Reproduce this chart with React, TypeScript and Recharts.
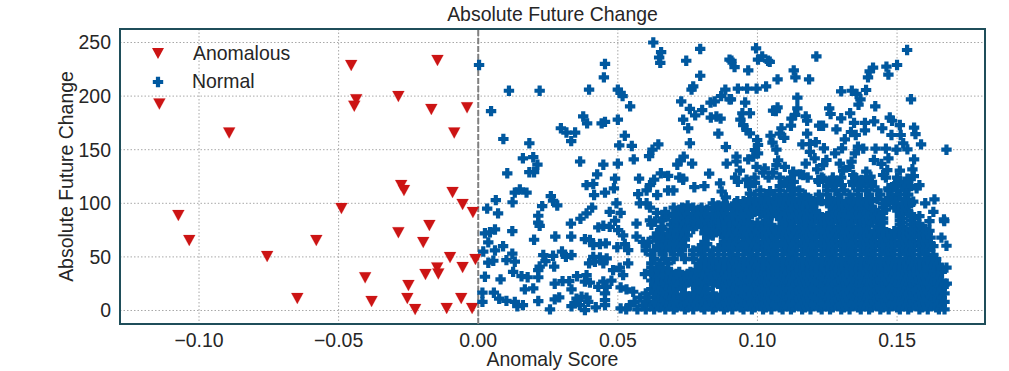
import React from "react";
import { ScatterChart, Scatter, XAxis, YAxis, CartesianGrid, ReferenceLine, ReferenceArea, Legend, Label } from "recharts";

const TITLE = "Absolute Future Change";
const X_LABEL = "Anomaly Score";
const Y_LABEL = "Absolute Future Change";
const X_TICKS = [-0.1, -0.05, 0, 0.05, 0.1, 0.15];
const Y_TICKS = [0, 50, 100, 150, 200, 250];
const X_DOMAIN = [-0.1283, 0.1815];
const Y_DOMAIN = [-12.6, 262.6];

// Scores are in thousandths: [score x 1000, change]
const anomalous = [
  [-114.2,193],[-89.2,166],[-45.5,229],[-14.6,233.7],[-43.7,197],[-44.4,191],[-28.6,200],[-16.8,188],[-4,189.5],[-8.6,166],
  [-107.4,89],[-103.5,65.7],[-75.6,50.8],[-64.8,11.6],[-58,65.7],[-49,95.5],[-40.5,30.9],[-38.2,8.8],[-27.6,117],[-26.6,112.3],
  [-28.6,73],[-17.5,79.7],[-19.7,63.8],[-25,23.7],[-25.4,11.6],[-22.6,1.3],[-18.9,34],[-14.7,40.2],[-14.3,34.6],[-11.3,2.3],
  [-10.1,49.8],[-9.2,110.5],[-5.6,99.3],[-1.9,91.8],[-5.6,40.5],[-6.1,11.6],[-2.2,2.3],[-1,48],
];

const normalOutlying = [
  [0.3,229],[11,205],[22,205],[4.6,186],[39.7,206],[45.4,230],[45,217.5],[50,206],[51,203],[51.7,200],[54.4,190.5],[62.7,250],[65.5,241],[64.8,236],[65.2,231],
  [74.5,233],[79.5,244],[79.5,219],[77,209],[76.4,206],[72.7,195],[75.8,188],[77.7,182],[80.2,187],[83.2,194],[84.7,195],[87,200],[88.5,206],[90,234],[90,197],
  [83.3,180],[85.3,181],[86.8,179],[86,165],[88.7,152.5],[75.8,156],[73.4,178],[75.2,170],[37.6,181],[39,174.6],[44.2,174.6],[45.4,176],[50,178],[52.5,163],[50.5,154],
  [55,153.5],[64.5,155],[62.4,150],[61.2,144],[55.7,141],[50,137],[44.8,136],[36.5,139],[33.3,158],[34.7,166],[31.6,166],[29.6,170],[18.3,156],[9,160],[16,142],
  [19.7,143],[21.2,136],[18.3,129],[20,129],[10.4,128],[42.6,127],[49,123],[57.6,123],[63,122],[65.4,128],[68,125.5],[72,124],[73.4,123],[71.3,136],[72.5,140],
  [73.6,143.5],[76.6,137],[82.7,127.7],[89,137],[99.5,244.6],[100.2,234],[101.7,237],[103.8,233],[104.4,232],[90.7,233],[91.8,227],[96.7,224],[113,224],[113.6,217.5],
  [118.5,215.6],[107.2,215.6],[121.1,237],[153.6,243],[150,229],[146.2,227.5],[146.9,220],[141.4,226.5],[140.2,223],[139.6,217.5],[138.9,205.7],[133.8,205],[130,204.5],
  [135.5,202],[136.9,197],[136.2,192],[142.2,190.5],[155,197],[93,207],[96.3,207],[99.7,207],[103.1,209],[90.5,197],[95.6,194],[114.3,198.5],[114.3,188.6],[107.2,189.5],
  [105.6,186.4],[106.6,186],[97.3,184],[94.6,184],[93.9,178],[94.9,173],[96.1,168.4],[97.3,165.3],[113.5,182.4],[112.2,179],[117.3,181],[117.8,177],[112,172.4],[108.6,170],
  [108,165],[109.6,161],[104.7,163],[105.4,156.6],[106.8,150],[117.8,165],[122.1,172.4],[123.5,172.4],[125.7,188.6],[126.2,183.3],[130,179.3],[133.2,184],[134.6,175],[138.5,175],
  [138.5,168],[141.8,176.5],[144.7,170],[147.4,180],[148.2,177],[151,173],[151.3,163.7],[148,163.7],[156.1,170.6],[156.6,164.6],[158.6,155],[167.7,150],[153.7,150.3],[156.1,141],
  [155.5,131.7],[151,130.5],[146.5,131],[146.9,142],[149.8,150],[152.2,156],[146,151],[142.3,151],[128.3,169],[133.5,166.5],[135.2,163.7],[131.3,159.7],[130.3,151.3],[123.8,151.3],
  [120.9,157],[118.8,155.3],[116.1,155],[118.8,148],[127.8,146.6],[136,152.8],[137.9,151],[134.9,146.6],[141.7,140.4],[100.2,154.4],[99.9,159],[99.1,149.7],[100.2,146.6],[98.5,143.5],
  [96.7,141],[92.5,143.5],[92.5,139],[93.7,130.5],[99.7,134],[102.6,132.6],[107.4,140],[106.8,135.7],[109.8,134],[117.3,137],[120.5,142],[124.7,140.4],[123.5,135.7],[129.5,137],
  [133.7,138.8],[133,134],[139,129.5],[144.4,136.7],[121.4,131.7],[112.8,129.5],[115.2,127],[130.7,130.5],[134.3,126.4],[145,126.4],[105.6,128.6],[102,128.6],
  [38.8,117],[41.2,118],[14.9,113],[13.1,110],[17.3,110],[26,106.7],[26.8,102.4],[28.3,98],[41.5,107.7],[45.4,110],[48.6,114],[57.3,108.6],[61.5,117],[60.3,112],[64.1,107.7],
  [6.3,103],[12.3,101],[22.9,97.4],[3.2,95],[7.1,90.6],[21.5,88.4],[21.5,82],[22,79],[33.2,81],[40.8,96],[38.8,90.6],[36.6,85.6],[49.5,100],[47.1,92],[51,91],[57.9,100],[60.3,100],
  [61.5,96],[64,91],[56.7,81],[49,83.7],[43,77.5],[44.8,79],[47.1,78],[50.1,75],[51.9,70],[61.5,84],[63.3,83],[66,86],[65.6,78],[6,75.6],[4.2,73],[2.4,72],[12.2,74],[3.6,63.5],
  [8.9,60],[20,66],[27.6,69],[33.3,69],[38.2,66.6],[40,65.7],[41.2,61],[43.6,62],[45.7,62.6],[49.8,59],[52.5,62],[53.7,56.4],[56.7,69],[59,64],[1.8,55],[6,56],[12.2,53],[10.1,47],
  [13.1,45.5],[5.4,46.4],[3.6,44.6],[23.3,51.7],[26.8,51],[24.1,46],[30,55],[31.4,50],[33.4,51.7],[22,41],[27.2,41],[21.5,37.7],[12.5,36],[15.5,32],[17.7,31],[21.5,31],[2.4,31.5],
  [8,29],[35.4,32],[41.2,50],[43.6,49.5],[46,48.6],[39.7,44],[44.8,44],[41.8,45.5],[48.3,37.7],[50.7,40],[51.9,33],[53.7,44],[59.7,34],[38.8,33],[38.2,27],[40,26],[27.4,25],
  [30.2,27.4],[32.6,27.4],[33.4,19.7],[44.8,27],[47.7,27.8],[43,22],[46,22],[51,21.5],[53.1,19.7],[45.4,16],[55.5,17.5],[16.7,19.7],[19.7,20.6],[1.5,16.6],[1.5,8],[5.6,16.6],
  [7.5,11],[10.1,9],[13.1,8],[14,4],[16,5],[21.5,8.8],[25.7,1],[27.4,10.4],[29,12.2],[33.4,4],[35.2,11],[37,12.8],[38.8,12],[34.6,6.6],[36.4,5],[38.2,0.4],[39.4,8],[42.1,3],
  [45.4,5],[45.4,9.7],[51,2],[54.3,5],[68,112],[73.4,122],[69.9,112],[77.4,115],[81,116],[86.6,118.6],[87.2,111],[88.7,105.5],[92.8,102],[96.1,122],[99.1,119],[97.3,109],[104.5,111.4],
  [107.5,104.6],[111,120],[112.8,114],[116.4,126.4],[121.8,121.7],[117.6,104.6],[123.6,123],[126.9,121.7],[130.2,117],[134.3,117],[137.3,121.7],[139.7,118.6],[158,117],[157,114],
  [149.3,118],[146.9,114],[152.8,114],[140.5,124.8],[153.7,123],[156,125.4],[163.4,103.7],[160.1,100],[163,92],[166.8,85],[166.9,83.4],[161.6,83.4],[161.6,74.4],[165.9,68],[167.7,60.4],
  [167.7,40],[167.8,25],[155.8,101.5],
];

// Solid core of the "Normal" cloud, read as rows: [change, score x 1000 ...]
const normalCore = [
  [1,53,57,60,63,67,70,74,77,81,84,88,91,95,98,102,105,109,112,116,119,123,126,130,133,137,140,144,147,151,154,158,161,165,167],
  [3,65,71,75,80,85,89,94,99,103,108,113,117,122,127,131,136,141,145,150,155,159,164],
  [4.5,59,62,65,69,72,76,79,83,86,90,93,97,100,104,107,111,114,118,121,125,128,132,135,139,142,146,149,153,156,160,163,166],
  [6,64,68,73,78,82,87,92,96,101,106,110,115,120,124,129,134,138,143,148,152,157,162],
  [8,56,60,63,67,70,74,77,81,84,88,91,95,98,102,105,109,112,116,119,123,126,130,133,137,140,144,147,151,154,158,161,165,167],
  [10,66,71,75,80,85,89,94,99,103,108,113,117,122,127,131,136,141,145,150,155,159,164],
  [12,58,61,65,69,72,76,79,83,86,90,93,97,100,104,107,111,114,118,121,125,128,132,135,139,142,146,149,153,156,160,163,166],
  [14,64,68,73,78,82,87,92,96,101,106,110,115,120,124,129,134,138,143,148,152,157,162],
  [16,60,63,67,70,74,77,81,84,88,91,95,98,102,105,109,112,116,119,123,126,130,133,137,140,144,147,151,154,158,161,165,167],
  [18,66,70,80,89,94,99,103,108,113,117,122,127,131,136,141,145,150,155,159,164],
  [20,62,65,69,71,79,82,90,93,97,100,104,107,111,114,118,121,125,128,132,135,139,142,146,149,153,156,160,163,166],
  [22,64,68,73,78,87,92,96,101,106,110,115,120,124,129,134,138,143,148,152,157,162],
  [24,63,67,70,74,77,81,84,88,91,95,98,102,105,109,112,116,119,123,126,130,133,137,140,144,147,151,154,158,161,165,167],
  [26,66,71,75,80,85,89,94,99,103,108,113,117,122,127,131,136,141,145,150,155,159,164],
  [28,62,65,69,72,76,79,83,86,90,93,97,100,104,107,111,114,118,121,125,128,132,135,139,142,146,149,153,156,160,163,166],
  [30,64,68,73,78,82,87,92,96,101,106,110,115,120,124,129,134,138,143,148,152,157,162],
  [32,64,67,70,74,77,81,84,88,91,95,98,102,105,109,112,116,119,123,126,130,133,137,140,144,147,151,154,158,161,165],
  [34,66,71,75,80,85,89,94,99,103,108,113,117,122,127,131,136,141,145,150,155,159,164],
  [36,62,65,69,72,76,79,83,86,90,93,97,100,104,107,111,114,118,121,125,128,132,135,139,142,146,149,153,156,160,163,166],
  [38,64,68,78,82,87,92,96,101,106,110,115,120,124,129,134,138,143,148,152,157,162],
  [40,62,66,79,82,86,90,93,97,100,104,107,111,114,118,121,125,128,132,135,139,142,146,149,153,156,160,163,166],
  [42,81,84,88,91,95,98,102,105,109,112,116,119,123,126,130,133,137,140,144,147,151,154,158,161,165],
  [44,62,65,68,79,83,86,90,93,97,100,104,107,111,114,118,121,125,128,132,135,139,142,146,149,153,156,160,163],
  [46,81,84,88,92,95,99,102,106,109,113,116,120,123,127,130,134,137,141,144,148,151,155,158,162],
  [48,63,67,70,74,77,81,84,88,91,95,98,102,105,109,112,116,119,123,126,130,133,137,140,144,147,151,154,158,161,164],
  [52,62,66,70,73,77,80,83,86,90,93,97,100,104,107,111,114,118,121,125,128,132,135,139,142,146,149,153,156,160,163],
  [56,60,63,67,70,73,77,81,84,88,91,95,98,102,105,109,112,116,119,123,126,130,133,137,140,144,147,151,154,158,161],
  [58,65,69,72,79,86,90,93,96,100,103,106,110,113,117,120,124,127,131,134,138,141,145,148,152,155,159],
  [60,60,64,67,71,74,81,88,91,94,97,100,104,107,111,114,118,121,125,128,132,135,139,142,146,149,153,156,160,163],
  [62,66,70,73,82,89,93,96,99,103,106,110,113,117,120,124,127,131,134,138,141,145,148,152,155,159,162],
  [64,61,65,68,72,81,88,91,95,98,102,105,109,112,116,119,123,126,130,133,137,140,144,147,151,154,158,161],
  [66,64,67,71,74,89,92,96,99,103,106,110,113,117,120,124,127,131,134,138,141,145,148,152,155,159],
  [68,63,66,70,73,82,88,90,93,97,100,104,107,111,114,118,121,125,128,132,135,139,142,146,149,153,156,160,162],
  [70,65,69,72,75,84,89,92,95,99,102,106,109,113,116,120,123,127,130,134,137,141,144,148,151,155,158],
  [72,64,68,71,74,81,84,87,91,95,98,102,105,109,112,116,119,123,126,130,133,137,140,144,147,151,154,158,161],
  [74,70,73,83,86,89,93,96,100,103,107,110,114,117,121,124,128,131,135,138,142,145,149,152,156,159],
  [76,66,70,73,77,82,85,88,92,95,99,102,106,109,113,116,120,123,127,130,134,137,145,151,155,158,160],
  [78,71,75,80,83,87,90,94,97,101,104,108,111,115,118,122,125,129,132,136,139,143,152,156,159],
  [80,62,69,72,75,78,81,84,88,91,95,98,102,105,109,112,116,119,123,126,130,133,137,140,144,151,155,158],
  [82,71,74,77,80,83,86,90,93,96,100,103,110,113,117,120,124,127,131,134,138,141,145,152,156],
  [84,66,70,73,77,81,84,88,92,95,103,109,112,116,119,123,126,130,133,137,140,144,151,155],
  [86,71,75,79,83,86,90,94,104,110,114,117,121,124,128,131,135,138,142,145,152,156],
  [88,68,72,75,79,82,86,89,93,97,103,107,111,114,118,121,125,128,132,135,139,144,151,155,158],
  [90,70,73,77,80,84,87,91,95,98,101,105,108,112,115,119,122,126,129,133,136,140,143,152,155],
  [92,67,71,74,78,81,85,88,92,96,99,103,106,110,113,117,121,127,130,134,137,141,145,151,154],
  [94,72,75,79,82,86,89,93,97,100,104,107,111,114,118,128,131,135,138,142,146,152],
  [96,70,73,77,80,84,87,91,94,98,101,105,108,112,115,119,127,130,134,137,141,145,149,153],
  [98,75,86,89,93,96,99,102,106,109,113,116,120,126,129,133,136,140,146,150,154],
  [100,84,88,92,96,100,103,107,110,114,118,121,125,128,132,135,139,145,149,152,155],
  [102,95,99,102,106,109,112,116,120,123,127,130,134,137,141,146,149,153],
  [104,97,101,104,108,111,115,119,122,126,129,133,136,139,143,147,150,153],
  [108,99,103,106,110,113,117,122,125,129,133,136,140,144,148,151,154],
  [112,101,108,112,115,125,128,131,136,139,143,147,150,153],
  [116,97,108,111,125,127,137,141,149,152,155],
  [120,93,97,110,113,122,126,129,134,137,141,151,154],
  [124,92,99,104,108,112,118,123,127,130,135,139,146,150],
];

const normal = [
  ...normalOutlying,
  ...normalCore.flatMap(([change, ...scores]) => scores.map((s) => [s, change])),
];

const toRows = (pts: number[][]) => pts.map(([s, c]) => ({ score: s / 1000, change: c }));
const anomalousData = toRows(anomalous);
const normalData = toRows(normal);

const RED = "#cc1414";
const BLUE = "#00589f";
const TEXT = "#262626";
const FRAME = "#1f4e5a";
const FONT = "'Liberation Sans', Arial, sans-serif";
const FS = 19.44;

const plusPath = (cx: number, cy: number) => {
  const r = 5.2, a = 2.1;
  return `M${cx - a} ${cy - r}H${cx + a}V${cy - a}H${cx + r}V${cy + a}H${cx + a}V${cy + r}H${cx - a}V${cy + a}H${cx - r}V${cy - a}H${cx - a}Z`;
};
const triPath = (cx: number, cy: number) => `M${cx - 6} ${cy - 5}H${cx + 6}L${cx} ${cy + 6}Z`;

const Plus = (p: any) => <path d={plusPath(p.cx, p.cy)} fill={BLUE} />;
const Tri = (p: any) => <path d={triPath(p.cx, p.cy)} fill={RED} stroke={RED} strokeOpacity={0.2} strokeWidth={1} />;

const LegendBox = () => (
  <svg width={170} height={60} style={{ display: "block" }}>
    <path d={triPath(18, 14)} fill={RED} />
    <text x={53} y={21} fontSize={FS} fill={TEXT} fontFamily={FONT}>Anomalous</text>
    <path d={plusPath(18, 43)} fill={BLUE} />
    <text x={52} y={49} fontSize={FS} fill={TEXT} fontFamily={FONT}>Normal</text>
  </svg>
);

const fmt = (v: number) => (v < 0 ? "\u2212" + Math.abs(v).toFixed(2) : v.toFixed(2));

export default function App() {
  const tick = { fontSize: FS, fill: TEXT, fontFamily: FONT };
  return (
    <div style={{ position: "absolute", left: 0, top: 0, width: 1009, height: 371, background: "#fff" }}>
      <div style={{ position: "absolute", left: 0, width: 1105, top: 4, textAlign: "center", fontSize: FS, lineHeight: "21px", color: TEXT, fontFamily: FONT }}>{TITLE}</div>
      <ScatterChart width={1009} height={371} margin={{ top: 29, right: 24, bottom: 17, left: 60 }}>
        <CartesianGrid stroke="#a8a8a8" strokeWidth={1} strokeDasharray="1.5 2" />
        <XAxis type="number" dataKey="score" domain={X_DOMAIN} ticks={X_TICKS} tickFormatter={fmt} tick={tick} tickLine={false} axisLine={false} height={30} tickMargin={3} allowDataOverflow interval={0}>
          <Label value={X_LABEL} position="insideBottom" offset={-12} style={{ fontSize: FS, fill: TEXT, fontFamily: FONT }} />
        </XAxis>
        <YAxis type="number" dataKey="change" domain={Y_DOMAIN} ticks={Y_TICKS} tick={tick} tickLine={false} axisLine={false} width={60} tickMargin={3} allowDataOverflow interval={0}>
          <Label value={Y_LABEL} angle={-90} position="center" dx={-24} style={{ fontSize: FS, fill: TEXT, fontFamily: FONT, textAnchor: "middle" }} />
        </YAxis>
        <Legend layout="vertical" align="center" verticalAlign="middle" content={<LegendBox />} wrapperStyle={{ position: "absolute", left: 140, top: 39, width: 170, height: 60, bottom: "auto" }} />
        <Scatter name="Anomalous" data={anomalousData} shape={Tri} isAnimationActive={false} />
        <Scatter name="Normal" data={normalData} shape={Plus} isAnimationActive={false} />
        <ReferenceLine x={0} stroke="#808080" strokeWidth={2} strokeDasharray="6 2" />
        <ReferenceArea x1={X_DOMAIN[0]} x2={X_DOMAIN[1]} y1={Y_DOMAIN[0]} y2={Y_DOMAIN[1]} fill="none" stroke={FRAME} strokeWidth={2} />
      </ScatterChart>
    </div>
  );
}
